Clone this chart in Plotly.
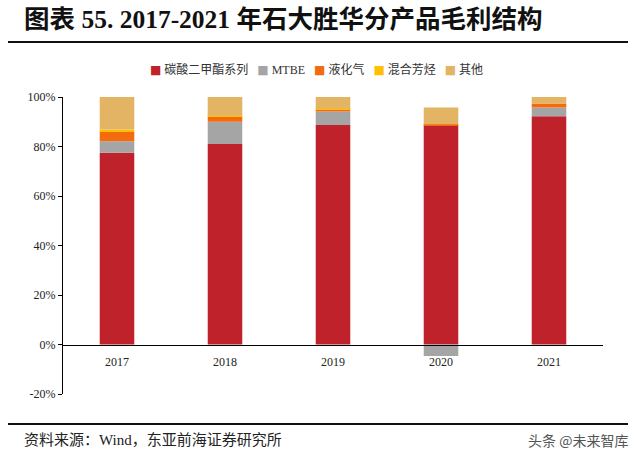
import plotly.graph_objects as go

years = ["2017", "2018", "2019", "2020", "2021"]
series_names = ["碳酸二甲酯系列", "MTBE", "液化气", "混合芳烃", "其他"]
dmc = [77.5, 81.0, 88.7, 88.6, 92.2]
mtbe = [4.6, 9.0, 5.4, -4.6, 3.6]
lpg = [4.0, 2.1, 0.9, 0.4, 1.6]
aromatics = [0.8, 0.3, 0.3, 0.0, 0.0]
others = [13.1, 7.6, 4.7, 6.8, 2.6]
colors = ["#C0222B", "#A5A5A5", "#F46A0E", "#FFC000", "#E2B463"]
y_ticks = [-20, 0, 20, 40, 60, 80, 100]
y_tick_labels = ["-20%", "0%", "20%", "40%", "60%", "80%", "100%"]

values = [dmc, mtbe, lpg, aromatics, others]

fig = go.Figure()
for name, vals, col in zip(series_names, values, colors):
    fig.add_trace(go.Bar(x=years, y=vals, name=name, showlegend=False,
                         marker=dict(color=col, line=dict(width=0))))

serif = "Liberation Serif, Noto Sans CJK SC, serif"
fig.update_layout(
    width=640, height=458,
    barmode="relative",
    bargap=0.68,
    paper_bgcolor="white",
    plot_bgcolor="white",
    margin=dict(l=63, r=37, t=97, b=64, autoexpand=False),
    xaxis=dict(anchor="free", position=1/6, showline=True, linecolor="#000000", linewidth=1.2,
               ticks="", ticklabelstandoff=6, tickfont=dict(family=serif, size=12, color="#222222"),
               showgrid=False, zeroline=False),
    yaxis=dict(range=[-20, 100], tickvals=y_ticks, ticktext=y_tick_labels, showgrid=False,
               zeroline=False,
               showline=True, linecolor="#000000", linewidth=1.2, ticks="outside", ticklen=4,
               tickcolor="#000000", tickfont=dict(family=serif, size=12, color="#222222")),
    font=dict(family=serif),
)

# legend built as text with coloured square glyphs
sq = '<span style="font-family:DejaVu Sans;color:{c}">■</span>'
legend_parts = []
for name, col in zip(series_names, colors):
    legend_parts.append(sq.format(c=col) + " " + name)
legend_text = "   ".join(legend_parts)
fig.add_annotation(xref="paper", yref="paper", x=(316-63)/540, y=(394-69)/297,
                   xanchor="center", yanchor="middle", showarrow=False,
                   text=legend_text,
                   font=dict(family=serif, size=12, color="#333333"))

fig.add_annotation(xref="paper", yref="paper", x=-41/540, y=(394-20)/297, xanchor="left", yanchor="middle",
                   showarrow=False,
                   text="<b>图表 55. 2017-2021 年石大胜华分产品毛利结构</b>",
                   font=dict(family=serif, size=25.5, color="#111111"))
fig.add_annotation(xref="paper", yref="paper", x=-41/540, y=-(440-394)/297, xanchor="left", yanchor="middle",
                   showarrow=False,
                   text="资料来源：Wind，东亚前海证券研究所",
                   font=dict(family=serif, size=15, color="#222222"))
fig.add_annotation(xref="paper", yref="paper", x=(630-63)/540, y=-(440-394)/297, xanchor="right", yanchor="middle",
                   showarrow=False,
                   text="头条 @未来智库",
                   font=dict(family="Noto Sans CJK SC, sans-serif", size=14, color="#555555"))

fig.add_shape(type="line", xref="paper", yref="paper",
              x0=(8-63)/540, x1=(628-63)/540, y0=(394-42)/297, y1=(394-42)/297,
              line=dict(color="#111111", width=2))
fig.add_shape(type="line", xref="paper", yref="paper",
              x0=(8-63)/540, x1=(628-63)/540, y0=-(424-394)/297, y1=-(424-394)/297,
              line=dict(color="#111111", width=2))

fig.write_html("out.html", config={"displayModeBar": False},
               post_script="document.body.style.margin='0';")
